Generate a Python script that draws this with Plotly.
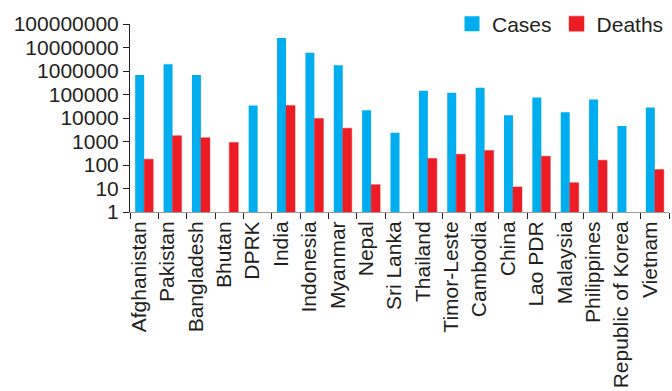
import plotly.graph_objects as go

countries = ["Afghanistan", "Pakistan", "Bangladesh", "Bhutan", "DPRK", "India",
             "Indonesia", "Myanmar", "Nepal", "Sri Lanka", "Thailand", "Timor-Leste",
             "Cambodia", "China", "Lao PDR", "Malaysia", "Philippines",
             "Republic of Korea", "Vietnam"]
cases = [668000, 1920000, 668000, None, 34300, 25500000,
         6050000, 1740000, 21200, 2345, 144000, 119000,
         192000, 13200, 73800, 17500, 61000,
         4590, 28300]
deaths = [177, 1760, 1453, 900, None, 34300,
          9560, 3670, 14.6, None, 188, 285,
          418, 11.7, 235, 17.7, 160,
          None, 63.6]
ytick_vals = [1, 10, 100, 1000, 10000, 100000, 1000000, 10000000, 100000000]
ytick_text = ["1", "10", "100", "1000", "10000", "100000", "1000000", "10000000", "100000000"]

BLUE = "#00AEEF"
RED = "#ED1C24"
TXT = "#231F20"
FONT = "Liberation Sans, Arial, sans-serif"

fig = go.Figure()
fig.add_trace(go.Bar(x=countries, y=cases, name="Cases", showlegend=False,
                     marker=dict(color=BLUE, line=dict(width=0))))
fig.add_trace(go.Bar(x=countries, y=deaths, name="Deaths", showlegend=False,
                     marker=dict(color=RED, line=dict(color="rgba(237,28,36,0.45)", width=1))))
# legend-only entries with larger square swatches
fig.add_trace(go.Scatter(x=[None], y=[None], mode="markers", name="Cases",
                         marker=dict(symbol="square", size=15, color=BLUE)))
fig.add_trace(go.Scatter(x=[None], y=[None], mode="markers", name="Deaths",
                         marker=dict(symbol="square", size=15, color=RED,
                                     line=dict(color="rgba(237,28,36,0.45)", width=1))))

fig.update_layout(
    width=672, height=391,
    margin=dict(l=130, r=3, t=22, b=176),
    paper_bgcolor="white", plot_bgcolor="white",
    barmode="group", bargap=0.366, bargroupgap=0,
    font=dict(family=FONT, size=21, color=TXT),
    showlegend=True,
    legend=dict(orientation="h", x=1.0, xanchor="right", y=1.0, yanchor="middle",
                font=dict(size=21, color=TXT), bgcolor="rgba(0,0,0,0)",
                itemwidth=30, traceorder="normal"),
)
fig.update_xaxes(
    type="category", showline=True, linecolor="#9a9a9a", linewidth=1,
    ticks="outside", tickson="boundaries", ticklen=6, tickcolor=TXT,
    tickangle=-90, tickfont=dict(size=21, color=TXT), showgrid=False,
    ticklabelshift=-5,
)
fig.update_yaxes(
    type="log", range=[0, 8], showline=True, linecolor=TXT, linewidth=1,
    ticks="outside", ticklen=6, tickcolor=TXT,
    tickmode="array", tickvals=ytick_vals, ticktext=ytick_text,
    tickfont=dict(size=21, color=TXT), showgrid=False, zeroline=False,
)

fig.write_html("out.html")
